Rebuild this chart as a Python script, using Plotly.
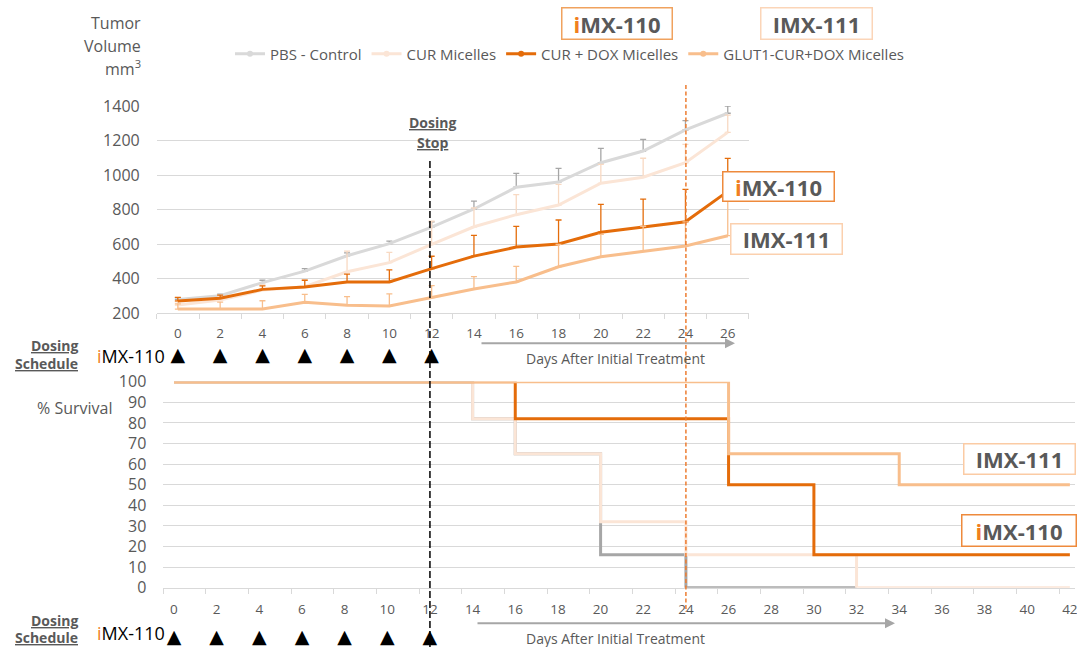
import plotly.graph_objects as go

W, H = 1077, 647

# ---------------- data ----------------
days = [0, 2, 4, 6, 8, 10, 12, 14, 16, 18, 20, 22, 24, 26]
series_names = ["PBS - Control", "CUR Micelles", "CUR + DOX Micelles", "GLUT1-CUR+DOX Micelles"]
pbs_vol = [279, 300, 376, 443, 532, 602, 698, 803, 929, 959, 1071, 1139, 1261, 1358]
pbs_err = [10, 10, 14, 14, 17, 15, 30, 46, 81, 79, 83, 68, 54, 42]
cur_vol = [246, 275, 333, 352, 439, 492, 598, 700, 770, 826, 952, 987, 1071, 1247]
cur_err = [20, 20, 30, 40, 120, 60, 135, 110, 116, 120, 110, 110, 107, 100]
dox_vol = [270, 285, 337, 351, 380, 380, 457, 530, 582, 600, 668, 699, 729, 905]
dox_err = [21, 19, 20, 39, 45, 70, 72, 120, 120, 139, 162, 161, 188, 191]
glut_vol = [223, 223, 223, 262, 245, 241, 289, 339, 380, 468, 526, 558, 588, 648]
glut_err = [30, 40, 48, 46, 50, 70, 70, 72, 90, 130, 130, 145, 140, 220]

# survival (step curves)
pbs_surv_days = [0, 14, 16, 20, 24, 32]
pbs_surv = [100, 82, 65, 16, 0, 0]
cur_surv_days = [0, 14, 16, 20, 24, 32, 42]
cur_surv = [100, 82, 65, 32, 16, 0, 0]
dox_surv_days = [0, 16, 26, 30, 42]
dox_surv = [100, 82, 50, 16, 16]
glut_surv_days = [0, 26, 34, 42]
glut_surv = [100, 65, 50, 50]

dose_days = [0, 2, 4, 6, 8, 10, 12]
dosing_stop_day = 12
imx_mark_day = 24

top_ticks = [0, 2, 4, 6, 8, 10, 12, 14, 16, 18, 20, 22, 24, 26]
bot_ticks = list(range(0, 43, 2))

# ---------------- styles ----------------
C_PBS = "#D9D9D9"
C_PBS_ERR = "#A6A6A6"
C_CUR = "#FBE5D6"
C_CUR_ERR = "#F8D9C2"
C_DOX = "#E46C0A"
C_GLUT = "#F8BE8C"
C_TXT = "#595959"
C_GRID = "#D9D9D9"
C_ORANGE_I = "#F07F1F"
FONT = "Open Sans"


def px(x):
    return x / W


def py(y):
    return 1 - y / H


fig = go.Figure()

vols = [pbs_vol, cur_vol, dox_vol, glut_vol]
errs = [pbs_err, cur_err, dox_err, glut_err]
cols = [C_PBS, C_CUR, C_DOX, C_GLUT]
ecols = [C_PBS_ERR, C_CUR_ERR, C_DOX, C_GLUT]
for name, v, e, c, ec in zip(series_names, vols, errs, cols, ecols):
    fig.add_trace(go.Scatter(
        x=days, y=v, mode="lines", name=name, showlegend=False,
        line=dict(color=c, width=3),
        error_y=dict(type="data", symmetric=False, array=e, arrayminus=[0] * len(e),
                     color=ec, thickness=1.3, width=3),
        xaxis="x", yaxis="y"))

# legend entries (line + dot)
for name, c in zip(series_names, cols):
    fig.add_trace(go.Scatter(
        x=[None], y=[None], mode="lines+markers", name=name,
        line=dict(color=c, width=3), marker=dict(color=c, size=6),
        xaxis="x", yaxis="y"))

# survival
surv = [(pbs_surv_days, pbs_surv, "#A6A6A6"), (cur_surv_days, cur_surv, C_CUR),
        (dox_surv_days, dox_surv, C_DOX), (glut_surv_days, glut_surv, C_GLUT)]
for (d, s, c), name in zip(surv, series_names):
    fig.add_trace(go.Scatter(
        x=d, y=s, mode="lines", line=dict(color=c, width=3, shape="hv"),
        name=name, showlegend=False, xaxis="x2", yaxis="y2"))

# dosing triangles
for xa, ya in [("x", "y3"), ("x2", "y4")]:
    fig.add_trace(go.Scatter(
        x=dose_days, y=[0.5] * len(dose_days), mode="text", text=["▲"] * len(dose_days),
        textfont=dict(family="DejaVu Sans", size=19, color="black"), showlegend=False,
        xaxis=xa, yaxis=ya, hoverinfo="skip", cliponaxis=False))

axis_common = dict(showgrid=False, zeroline=False, color=C_TXT, ticklabeloverflow="allow",
                   tickfont=dict(family=FONT, size=13.5, color=C_TXT))

fig.update_layout(
    width=W, height=H, margin=dict(l=0, r=0, t=0, b=0, pad=0, autoexpand=False),
    paper_bgcolor="white", plot_bgcolor="white",
    font=dict(family=FONT, color=C_TXT),
    xaxis=dict(domain=[px(156.7), px(748.9)], range=[-1, 27], tickmode="array",
               tickvals=top_ticks, ticks="", showline=True, linecolor=C_GRID, linewidth=1,
               ticklabelstandoff=8,
               minor=dict(tickmode="array", tickvals=list(range(-1, 28, 2)), ticks="outside",
                          ticklen=5, tickcolor=C_GRID, tickwidth=1, showgrid=False),
               anchor="y", **axis_common),
    yaxis=dict(domain=[py(313), py(106)], range=[200, 1400], dtick=200, showgrid=True,
               gridcolor=C_GRID, gridwidth=1, zeroline=False, showline=False,
               tickfont=dict(family=FONT, size=16, color=C_TXT), ticks="",
               ticklabelstandoff=16, anchor="x"),
    yaxis3=dict(domain=[py(366), py(346)], range=[0, 1], visible=False, anchor="x"),
    xaxis2=dict(domain=[px(163.3), px(1075.2)], range=[-0.5, 42.25], tickmode="array",
                tickvals=bot_ticks, ticks="", showline=True, linecolor=C_GRID, linewidth=1,
                ticklabelstandoff=9,
                minor=dict(tickmode="array", tickvals=[t - 0.5 for t in bot_ticks],
                           ticks="outside", ticklen=5, tickcolor=C_GRID, tickwidth=1,
                           showgrid=False),
                anchor="y2", **axis_common),
    yaxis2=dict(domain=[py(587.7), py(381.7)], range=[0, 100], dtick=10, showgrid=True,
                gridcolor=C_GRID, gridwidth=1, zeroline=False, showline=False,
                tickfont=dict(family=FONT, size=16, color=C_TXT), ticks="",
                ticklabelstandoff=16, anchor="x2"),
    yaxis4=dict(domain=[0, py(629)], range=[0, 1], visible=False, anchor="x2"),
    legend=dict(orientation="h", x=px(230), y=py(54), xanchor="left", yanchor="middle",
                font=dict(family=FONT, size=15, color=C_TXT), bgcolor="rgba(0,0,0,0)",
                traceorder="normal"),
    showlegend=True,
)

# vertical reference lines
fig.add_shape(type="line", xref="x2", yref="paper", x0=dosing_stop_day, x1=dosing_stop_day,
              y0=py(161), y1=py(647), line=dict(color="black", width=1.5, dash="7px,3px"))
fig.add_shape(type="line", xref="x2", yref="paper", x0=imx_mark_day, x1=imx_mark_day,
              y0=py(85), y1=py(612), line=dict(color="#ED7D31", width=1.5, dash="4px,2.5px"))

ann = []


def txt(x, y, text, size=16, color=C_TXT, xanchor="center", family=FONT):
    ann.append(dict(xref="paper", yref="paper", x=px(x), y=py(y), text=text, showarrow=False,
                    xanchor=xanchor, yanchor="middle",
                    font=dict(family=family, size=size, color=color)))


# y-axis titles
txt(143, 23, "Tumor", 16, xanchor="right")
txt(143, 46, "Volume", 16, xanchor="right")
txt(143, 68, "mm<sup>3</sup>", 16, xanchor="right")
txt(114, 408, "% Survival", 16, xanchor="right")

# dosing stop
txt(432, 123, "<b><u>Dosing</u></b>", 14)
txt(432, 142, "<b><u>Stop</u></b>", 14)

# dosing schedule labels
for yy1, yy2, yi in [(345, 363, 356), (620, 637, 633)]:
    txt(80, yy1, "<b><u>Dosing</u></b>", 14, xanchor="right")
    txt(80, yy2, "<b><u>Schedule</u></b>", 14, xanchor="right")
    txt(95, yi, f"<span style='color:{C_ORANGE_I}'>i</span>MX-110", 18, color="black",
        xanchor="left")

# days after treatment labels + arrows
for (xs, xe, ya, yt) in [(480, 735, 343.3, 358.5), (476, 895, 623.3, 638)]:
    ann.append(dict(xref="paper", yref="paper", x=px(xe), y=py(ya), ax=-(xe - xs), ay=0,
                    text="", showarrow=True, arrowhead=2, arrowsize=1, arrowwidth=2,
                    arrowcolor="#A6A6A6", standoff=0, startstandoff=0))
    txt(615, yt, "Days After Initial Treatment", 14)

# boxed labels
IMX110 = f"<b><span style='color:{C_ORANGE_I}'>i</span>MX-110</b>"
IMX111 = "<b>IMX-111</b>"
for (x0, x1, y0, y1, t, bc) in [
        (561, 672, 8, 40, IMX110, "#F0A25E"),
        (760, 872, 8, 40, IMX111, "#FBD5B8"),
        (722, 834, 171, 201, IMX110, "#EE8A3C"),
        (730, 842, 223, 254, IMX111, "#FBD0AE"),
        (963, 1075, 443, 474, IMX111, "#FBCBA4"),
        (961, 1076, 514, 546, IMX110, "#EE8A3C")]:
    ann.append(dict(xref="paper", yref="paper", x=px((x0 + x1) / 2), y=py((y0 + y1) / 2),
                    text=t, showarrow=False, xanchor="center", yanchor="middle",
                    width=(x1 - x0) - 4, height=(y1 - y0) - 4, bgcolor="white",
                    bordercolor=bc, borderwidth=1.5, borderpad=1,
                    font=dict(family=FONT, size=22, color=C_TXT)))

fig.update_layout(annotations=ann)
fig.write_html("out.html")
